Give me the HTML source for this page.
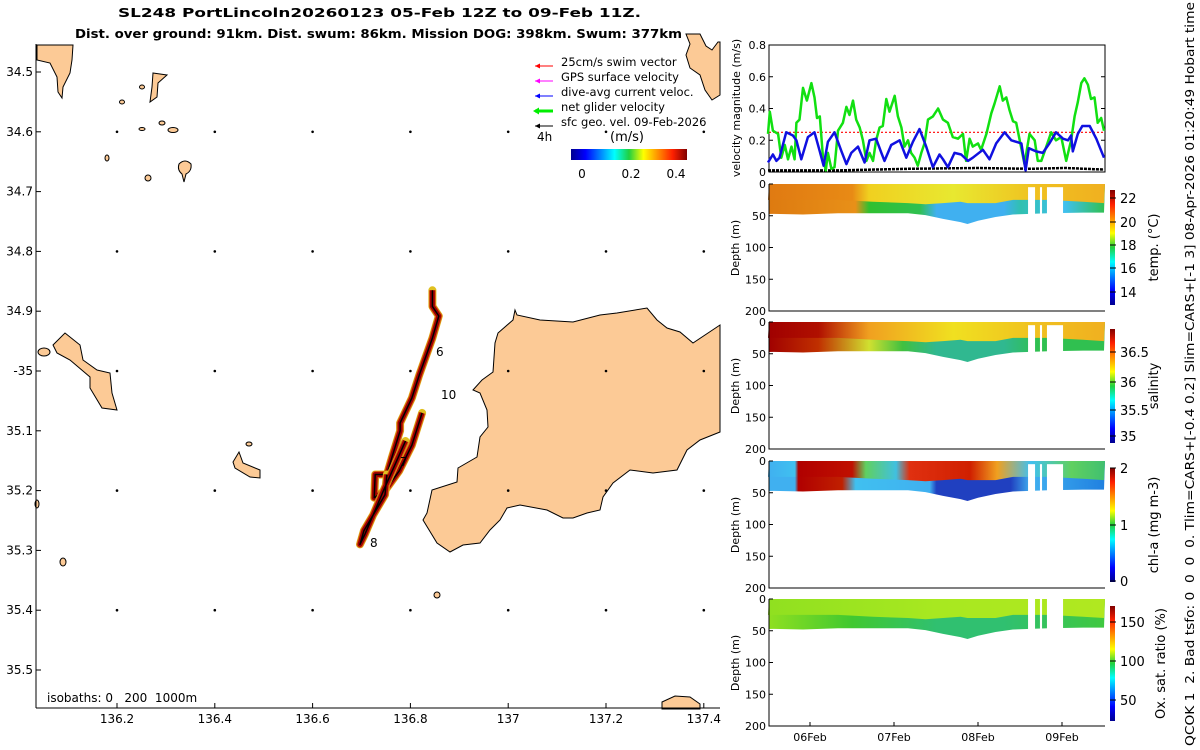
<!DOCTYPE html>
<html><head><meta charset="utf-8">
<style>
html,body{margin:0;padding:0;background:#fff;}
svg{display:block;font-family:"DejaVu Sans","Liberation Sans",sans-serif;}
</style></head>
<body>
<svg id="fig" width="1200" height="750" viewBox="0 0 1200 750">
<defs>
<linearGradient id="jet" x1="0" y1="1" x2="0" y2="0">
<stop offset="0" stop-color="#00008f"/><stop offset="0.125" stop-color="#0000ff"/><stop offset="0.375" stop-color="#00ffff"/><stop offset="0.5" stop-color="#20d040"/><stop offset="0.625" stop-color="#ffff00"/><stop offset="0.875" stop-color="#ff2000"/><stop offset="1" stop-color="#800000"/>
</linearGradient>
<linearGradient id="jeth" x1="0" y1="0" x2="1" y2="0">
<stop offset="0" stop-color="#00008f"/><stop offset="0.125" stop-color="#0000ff"/><stop offset="0.375" stop-color="#00ffff"/><stop offset="0.5" stop-color="#20d040"/><stop offset="0.625" stop-color="#ffff00"/><stop offset="0.875" stop-color="#ff2000"/><stop offset="1" stop-color="#800000"/>
</linearGradient>
<linearGradient id="tUp" x1="0" x2="1"><stop offset="0" stop-color="#e07a12"/><stop offset="0.25" stop-color="#e88a15"/><stop offset="0.3" stop-color="#f0d020"/><stop offset="0.55" stop-color="#e8e830"/><stop offset="0.8" stop-color="#f0c020"/><stop offset="1" stop-color="#f0b020"/></linearGradient>
<linearGradient id="tLo" x1="0" x2="1"><stop offset="0" stop-color="#dd7a10"/><stop offset="0.26" stop-color="#e89018"/><stop offset="0.3" stop-color="#30c030"/><stop offset="0.45" stop-color="#30c050"/><stop offset="0.5" stop-color="#40b0f0"/><stop offset="0.7" stop-color="#40b0f0"/><stop offset="0.75" stop-color="#30c0b0"/><stop offset="0.88" stop-color="#40c0f0"/><stop offset="1" stop-color="#30c050"/></linearGradient>
<linearGradient id="sUp" x1="0" x2="1"><stop offset="0" stop-color="#a00000"/><stop offset="0.15" stop-color="#b01000"/><stop offset="0.3" stop-color="#f0a020"/><stop offset="0.55" stop-color="#f0e020"/><stop offset="0.8" stop-color="#f0c020"/><stop offset="1" stop-color="#f0b020"/></linearGradient>
<linearGradient id="sLo" x1="0" x2="1"><stop offset="0" stop-color="#a00000"/><stop offset="0.15" stop-color="#c03000"/><stop offset="0.3" stop-color="#d0e030"/><stop offset="0.4" stop-color="#40c040"/><stop offset="0.5" stop-color="#30b890"/><stop offset="0.7" stop-color="#30b890"/><stop offset="0.8" stop-color="#30c050"/><stop offset="1" stop-color="#30c050"/></linearGradient>
<linearGradient id="cUp" x1="0" x2="1"><stop offset="0" stop-color="#40b0f0"/><stop offset="0.08" stop-color="#40c0f0"/><stop offset="0.09" stop-color="#b00000"/><stop offset="0.25" stop-color="#c01000"/><stop offset="0.29" stop-color="#60d060"/><stop offset="0.38" stop-color="#40c0e0"/><stop offset="0.42" stop-color="#e03010"/><stop offset="0.6" stop-color="#d02000"/><stop offset="0.68" stop-color="#f0a020"/><stop offset="0.78" stop-color="#40c0f0"/><stop offset="0.9" stop-color="#60d060"/><stop offset="1" stop-color="#40c070"/></linearGradient>
<linearGradient id="cLo" x1="0" x2="1"><stop offset="0" stop-color="#40b0f0"/><stop offset="0.08" stop-color="#40b0f0"/><stop offset="0.09" stop-color="#b00000"/><stop offset="0.22" stop-color="#c02000"/><stop offset="0.26" stop-color="#40c0f0"/><stop offset="0.48" stop-color="#40b0f0"/><stop offset="0.5" stop-color="#2040c0"/><stop offset="0.72" stop-color="#2040c0"/><stop offset="0.78" stop-color="#40b0f0"/><stop offset="1" stop-color="#2080e0"/></linearGradient>
<linearGradient id="oUp" x1="0" x2="1"><stop offset="0" stop-color="#90e020"/><stop offset="0.5" stop-color="#a8e820"/><stop offset="1" stop-color="#b0e820"/></linearGradient>
<linearGradient id="oLo" x1="0" x2="1"><stop offset="0" stop-color="#90e020"/><stop offset="0.25" stop-color="#40c830"/><stop offset="0.5" stop-color="#30c070"/><stop offset="0.7" stop-color="#30c070"/><stop offset="1" stop-color="#40c840"/></linearGradient>
</defs>

<text x="118" y="17" font-size="12.5" font-weight="bold" textLength="523" lengthAdjust="spacingAndGlyphs">SL248 PortLincoln20260123 05-Feb 12Z to 09-Feb 11Z.</text>
<text x="75" y="38" font-size="12.5" font-weight="bold" textLength="607" lengthAdjust="spacingAndGlyphs">Dist. over ground: 91km. Dist. swum: 86km. Mission DOG: 398km. Swum: 377km</text>

<g id="map">
<g fill="#fcca96" stroke="#000" stroke-width="1">
<polygon points="515,310 517,315 540,320 573,322 600,315 617,313 647,308 657,320 667,328 680,332 693,343 720,325 720,432 700,440 687,450 677,470 653,473 630,470 613,483 603,497 600,510 587,513 573,518 563,518 547,510 520,505 507,508 500,520 490,530 480,543 463,545 450,552 437,543 423,520 427,513 432,490 457,482 458,468 477,457 480,437 488,427 487,410 480,393 473,390 482,380 493,372 495,343 498,333 513,320"/>
<polygon points="37,45 73,45 72,60 70,73 63,87 62,98 58,92 57,77 50,63 37,60"/>
<polygon points="686,34 700,34 706,46 712,50 718,42 720,42 720,95 712,100 705,90 700,75 690,68 686,55 690,44"/>
<polygon points="153,73 167,75 158,83 157,97 150,102 152,87"/>
<path d="M179,164 Q185,158 191,164 Q192,171 186,174 L184,182 L182,174 Q177,170 179,164Z"/>
<polygon points="53,345 65,333 80,345 83,360 97,370 110,373 112,393 117,410 102,408 90,388 90,377 70,360 57,353"/>
<ellipse cx="44" cy="352" rx="6" ry="4"/>
<polygon points="239,452 243,463 260,470 260,478 250,477 235,468 233,462"/>
<polygon points="662,702 675,696 690,697 700,704 700,709 662,709"/>
<ellipse cx="173" cy="130" rx="5" ry="2.5"/>
<ellipse cx="162" cy="123" rx="3" ry="2"/>
<ellipse cx="148" cy="178" rx="3" ry="3"/>
<ellipse cx="107" cy="158" rx="2" ry="3"/>
<ellipse cx="122" cy="102" rx="2.5" ry="2"/>
<ellipse cx="142" cy="87" rx="2.5" ry="2"/>
<ellipse cx="142" cy="129" rx="3" ry="1.5"/>
<ellipse cx="249" cy="444" rx="3" ry="2"/>
<ellipse cx="63" cy="562" rx="3" ry="4"/>
<ellipse cx="437" cy="595" rx="3" ry="3"/>
<ellipse cx="37" cy="504" rx="2" ry="4"/>
</g>
<g id="dots" fill="#000"></g>
<g id="track"></g>
<g font-size="12">
<text x="436" y="356">6</text>
<text x="441" y="399">10</text>
<text x="400" y="466">7</text>
<text x="370" y="547">8</text>
<text x="47" y="702" xml:space="preserve">isobaths: 0   200  1000m</text>
</g>
<line x1="36" y1="44" x2="36" y2="708" stroke="#000"/>
<line x1="36" y1="708" x2="720" y2="708" stroke="#000"/>
<g id="mapticks" font-size="12"></g>
<g font-size="11.5">
<g><line x1="535" y1="66" x2="553" y2="66" stroke="#f00"/><path d="M535,66 l5,-2.5 v5z" fill="#f00"/><text x="561" y="66">25cm/s swim vector</text></g>
<g><line x1="535" y1="81" x2="553" y2="81" stroke="#f0f"/><path d="M535,81 l5,-2.5 v5z" fill="#f0f"/><text x="561" y="81">GPS surface velocity</text></g>
<g><line x1="535" y1="96" x2="553" y2="96" stroke="#00f"/><path d="M535,96 l5,-2.5 v5z" fill="#00f"/><text x="561" y="96">dive-avg current veloc.</text></g>
<g><line x1="535" y1="111" x2="553" y2="111" stroke="#0e0" stroke-width="3"/><path d="M533,111 l6,-3.5 v7z" fill="#0e0"/><text x="561" y="111">net glider velocity</text></g>
<g><line x1="535" y1="126" x2="553" y2="126" stroke="#000"/><path d="M535,126 l5,-2.5 v5z" fill="#000"/><text x="561" y="126">sfc geo. vel. 09-Feb-2026</text></g>
<text x="537" y="141" font-size="12">4h</text>
<text x="610" y="141" font-size="13">(m/s)</text>
<rect x="571" y="149" width="116" height="11" fill="url(#jeth)"/>
<text x="582" y="178" font-size="12" text-anchor="middle">0</text>
<text x="631" y="178" font-size="12" text-anchor="middle">0.2</text>
<text x="676" y="178" font-size="12" text-anchor="middle">0.4</text>
</g>
</g>

<g id="vel"></g>
<g id="sections"></g>

<text transform="translate(1194,746) rotate(-90)" font-size="12" textLength="744" lengthAdjust="spacingAndGlyphs" xml:space="preserve">QCOK 1  2. Bad tsfo: 0  0  0  0. Tlim=CARS+[-0.4 0.2] Slim=CARS+[-1 3] 08-Apr-2026 01:20:49 Hobart time</text>
</svg>

<script>
const netHours = [0,0.5,1.4,2.9,3.8,4.8,5.7,6.7,7.6,8.1,9.0,10.0,11.1,12.4,13.3,14.0,14.8,15.7,16.5,17.1,18.1,19.0,20.0,21.4,22.4,23.3,24.3,25.2,26.2,27.1,28.1,29.0,30.0,30.9,31.9,32.8,33.8,34.7,36.2,37.1,38.1,39.0,40.0,40.9,41.9,42.8,43.8,44.7,45.7,47.1,48.6,50.0,51.4,52.8,54.3,55.7,56.6,57.6,58.5,60.0,60.9,62.4,63.8,64.7,66.2,67.1,68.1,69.0,70.0,70.9,71.9,73.3,74.7,76.2,77.1,78.1,79.5,80.9,82.3,83.8,85.2,86.6,87.6,88.5,89.5,90.4,91.4,92.3,93.3,94.2,95.2,96.0];
const netSpeed = [.24,.38,.26,.24,.09,.17,.08,.16,.08,.31,.33,.53,.45,.56,.47,.34,.35,.09,.01,.12,.02,.03,.26,.31,.41,.36,.45,.33,.28,.20,.07,.12,.07,.20,.28,.29,.46,.38,.48,.35,.28,.16,.20,.12,.09,.04,.12,.18,.33,.35,.40,.33,.31,.22,.21,.24,.07,.21,.16,.18,.14,.24,.37,.43,.54,.45,.47,.39,.32,.31,.20,.05,.24,.20,.07,.07,.16,.25,.20,.22,.07,.20,.35,.44,.56,.59,.55,.46,.47,.31,.34,.26];
const curHours = [0,1.4,2.4,3.3,5.2,7.1,8.1,9.5,11.4,13.3,14.8,15.9,17.1,19.0,21.0,22.4,23.8,25.7,27.6,29.0,30.9,32.4,33.3,35.2,37.6,39.5,41.4,43.3,45.2,47.1,49.0,50.0,51.4,53.3,55.2,57.1,58.5,61.4,63.3,65.2,67.6,69.5,72.4,73.6,74.5,76.6,78.5,80.4,82.3,84.3,85.7,86.6,87.1,88.5,89.8,91.9,93.8,96.0];
const curSpeed = [.06,.11,.07,.09,.25,.23,.20,.08,.22,.25,.13,.04,.19,.25,.13,.05,.12,.16,.06,.20,.21,.12,.07,.17,.20,.09,.19,.27,.16,.03,.11,.08,.03,.12,.11,.07,.09,.14,.08,.18,.25,.20,.18,.01,.15,.13,.12,.18,.25,.21,.20,.23,.13,.24,.29,.29,.21,.09];
const swimSpeed = 0.25;
const geoHours = [0,20,40,60,75,85,96];
const geoSpeed = [0.01,0.01,0.02,0.025,0.02,0.025,0.015];
const velTicks = [0,0.2,0.4,0.6,0.8];

const sectionHours = [0,10,20,30,40,45,50,55,57,60,65,70,80,90,96];
const bottomDepth = [47,48,46,46,46,49,55,60,63,58,52,48,46,45,45];
const upperDepth = [25,25,25,28,30,32,30,28,30,30,30,25,25,28,30];
const gapStart = [74.3,77.7,79.7];
const gapEnd = [76.3,78.3,84.3];
const depthTicks = [0,50,100,150,200];
const dateTicks = ['06Feb','07Feb','08Feb','09Feb'];
const dateTickHours = [12,36,60,84];

const lonTicks = [136.2,136.4,136.6,136.8,137,137.2,137.4];
const latTicks = [34.5,34.6,34.7,34.8,34.9,35,35.1,35.2,35.3,35.4,35.5];
const latLabels = ['34.5','34.6','34.7','34.8','34.9','-35','35.1','35.2','35.3','35.4','35.5'];
const dotLon = [136.2,136.4,136.6,136.8,137,137.2,137.4];
const dotLat = [34.6,34.8,35,35.2,35.4];
const trackLon = [136.845,136.845,136.858,136.845,136.818,136.803,136.779,136.779,136.762,136.752,136.728,136.726,136.748,136.777,136.803,136.824];
const trackLat = [34.865,34.892,34.908,34.945,35.007,35.045,35.087,35.100,35.145,35.173,35.173,35.212,35.200,35.167,35.124,35.070];
const track2Lon = [136.752,136.748,136.705,136.697,136.707,136.745,136.790];
const track2Lat = [35.173,35.207,35.267,35.290,35.273,35.200,35.117];

const NS='http://www.w3.org/2000/svg';
function mk(tag, attrs, parent, txt){const e=document.createElementNS(NS,tag);for(const k in attrs)e.setAttribute(k,attrs[k]);if(txt!==undefined)e.textContent=txt;parent.appendChild(e);return e;}

const mx = lon => 117 + (lon-136.2)/0.2*97.8;
const my = lat => 72 + (lat-34.5)/0.1*59.8;
const mt = document.getElementById('mapticks');
lonTicks.forEach(v=>{
  const x=mx(v);
  const l=mk('line',{x1:x,y1:708,x2:x,y2:703,stroke:'#000'},mt);
  
  
  const t=mk('text',{x:x,y:723,'text-anchor':'middle'},mt,String(v));
  
  
});
latTicks.forEach((v,i)=>{
  const y=my(v);
  const l=mk('line',{x1:36,y1:y,x2:41,y2:y,stroke:'#000'},mt);
  
  
  const t=mk('text',{x:33,y:y+4,'text-anchor':'end'},mt,latLabels[i]);
  
  
});
const dg=document.getElementById('dots');
dotLon.forEach(lo=>dotLat.forEach(la=>{
  const c=mk('circle',{cx:mx(lo),cy:my(la),r:1.3},dg);
  
  
}));
const tg=document.getElementById('track');
function poly(lons,lats){return lons.map((v,i)=>mx(v).toFixed(1)+','+my(lats[i]).toFixed(1)).join(' ');}
[[trackLon,trackLat],[track2Lon,track2Lat]].forEach(p=>{
  const pts=poly(p[0],p[1]);
  const a=mk('polyline',{points:pts,fill:'none',stroke:'#e0c020','stroke-width':8,'stroke-linejoin':'round','stroke-linecap':'round'},tg);
  
  
  const b=mk('polyline',{points:pts,fill:'none',stroke:'#d86010','stroke-width':7,'stroke-linejoin':'round'},tg);
  
  
  const c=mk('polyline',{points:pts,fill:'none',stroke:'#a00000','stroke-width':5,'stroke-linejoin':'round'},tg);
  
  
  const d=mk('polyline',{points:pts,fill:'none',stroke:'#000','stroke-width':1.5,'stroke-linejoin':'round'},tg);
  
  
});

const VX0=769, VX1=1105, VY0=45, VY1=172;
const tx = h => 768 + h*3.5;
const vy = v => VY1 - v/0.8*(VY1-VY0);
const vg=document.getElementById('vel');
const fr=mk('rect',{x:VX0,y:VY0,width:VX1-VX0,height:VY1-VY0,fill:'none',stroke:'#000'},vg);


velTicks.forEach(v=>{
  const y=vy(v);
  const l=mk('line',{x1:VX0,y1:y,x2:VX0+4,y2:y,stroke:'#000'},vg);
  
  
  const r=mk('line',{x1:VX1,y1:y,x2:VX1-4,y2:y,stroke:'#000'},vg);
  
  
  const t=mk('text',{x:VX0-3,y:y+4,'text-anchor':'end','font-size':'11'},vg,String(v));
  
  
});
const vt=mk('text',{transform:'translate(740,108) rotate(-90)','font-size':'11','text-anchor':'middle'},vg,'velocity magnitude (m/s)');


const sw=mk('line',{x1:VX0,y1:vy(swimSpeed),x2:VX1,y2:vy(swimSpeed),stroke:'#f00','stroke-width':1.2,'stroke-dasharray':'2,2'},vg);


const ln=(h,v)=>h.map((x,i)=>tx(x).toFixed(1)+','+vy(v[i]).toFixed(1)).join(' ');
const g1=mk('polyline',{points:ln(geoHours,geoSpeed),fill:'none',stroke:'#000','stroke-width':2.5,'stroke-dasharray':'3,1'},vg);


const g2=mk('polyline',{points:ln(netHours,netSpeed),fill:'none',stroke:'#11e011','stroke-width':2.5,'stroke-linejoin':'round'},vg);


const g3=mk('polyline',{points:ln(curHours,curSpeed),fill:'none',stroke:'#1010e0','stroke-width':2.5,'stroke-linejoin':'round'},vg);



const sg=document.getElementById('sections');
const panels=[
 {top:184,up:'tUp',lo:'tLo',name:'temperature',title:'temp. (°C)',cb:[190,305],ticks:[['22',198],['20',222],['18',245],['16',268],['14',292]]},
 {top:322,up:'sUp',lo:'sLo',name:'salinity',title:'salinity',cb:[329,443],ticks:[['36.5',352],['36',382],['35.5',410],['35',436]]},
 {top:461,up:'cUp',lo:'cLo',name:'chlorophyll',title:'chl-a (mg m-3)',cb:[468,582],ticks:[['2',468],['1',525],['0',581]]},
 {top:599,up:'oUp',lo:'oLo',name:'oxygen',title:'Ox. sat. ratio (%)',cb:[606,721],ticks:[['150',622],['100',661],['50',700]]}
];
panels.forEach((p,pi)=>{
  const dy=d=>p.top+d*0.635;
  const g=mk('g',{},sg);
  
  
  let lo='M'+VX0+','+dy(0)+' L'+VX1+','+dy(0);
  for(let i=sectionHours.length-1;i>=0;i--) lo+=' L'+Math.min(VX1,tx(sectionHours[i])).toFixed(1)+','+dy(bottomDepth[i]).toFixed(1);
  lo+=' L'+VX0+','+dy(bottomDepth[0])+'Z';
  const a=mk('path',{d:lo,fill:'url(#'+p.lo+')'},g);
  
  
  let up='M'+VX0+','+dy(0)+' L'+VX1+','+dy(0);
  for(let i=sectionHours.length-1;i>=0;i--) up+=' L'+Math.min(VX1,tx(sectionHours[i])).toFixed(1)+','+dy(upperDepth[i]).toFixed(1);
  up+='Z';
  const b=mk('path',{d:up,fill:'url(#'+p.up+')'},g);
  
  
  gapStart.forEach((s,i)=>{
    const r=mk('rect',{x:tx(s),y:dy(pi===3?0:5),width:tx(gapEnd[i])-tx(s),height:dy(50)-dy(pi===3?0:5),fill:'#fff'},g);
    
    
  });
  const ax=mk('path',{d:'M'+VX0+','+p.top+' V'+(p.top+127)+' H'+VX1,fill:'none',stroke:'#000'},g);
  
  
  depthTicks.forEach(d=>{
    const t=mk('text',{x:VX0-3,y:dy(d)+4,'text-anchor':'end','font-size':'11'},g,String(d));
    
    
    const l=mk('line',{x1:VX0,y1:dy(d),x2:VX0+4,y2:dy(d),stroke:'#000'},g);
    
    
  });
  const yt=mk('text',{transform:'translate(739,'+(p.top+64)+') rotate(-90)','font-size':'11','text-anchor':'middle'},g,'Depth (m)');
  
  
  const cb=mk('rect',{x:1110,y:p.cb[0],width:5,height:p.cb[1]-p.cb[0],fill:'url(#jet)'},g);
  
  
  p.ticks.forEach(tk=>{
    const l=mk('line',{x1:1110,y1:tk[1],x2:1116,y2:tk[1],stroke:'#000'},g);
    
    
    const t=mk('text',{x:1120,y:tk[1]+5,'font-size':'13'},g,tk[0]);
    
    
  });
  const ct=mk('text',{transform:'translate('+(pi===3?1165:1158)+','+((p.cb[0]+p.cb[1])/2)+') rotate(-90)','font-size':'13','text-anchor':'middle'},g,p.title);
  
  
});
dateTicks.forEach((d,i)=>{
  const x=tx(dateTickHours[i]);
  const l=mk('line',{x1:x,y1:726,x2:x,y2:722,stroke:'#000'},sg);
  
  
  const t=mk('text',{x:x,y:741,'text-anchor':'middle','font-size':'11'},sg,d);
  
  
});
</script>
</body></html>
